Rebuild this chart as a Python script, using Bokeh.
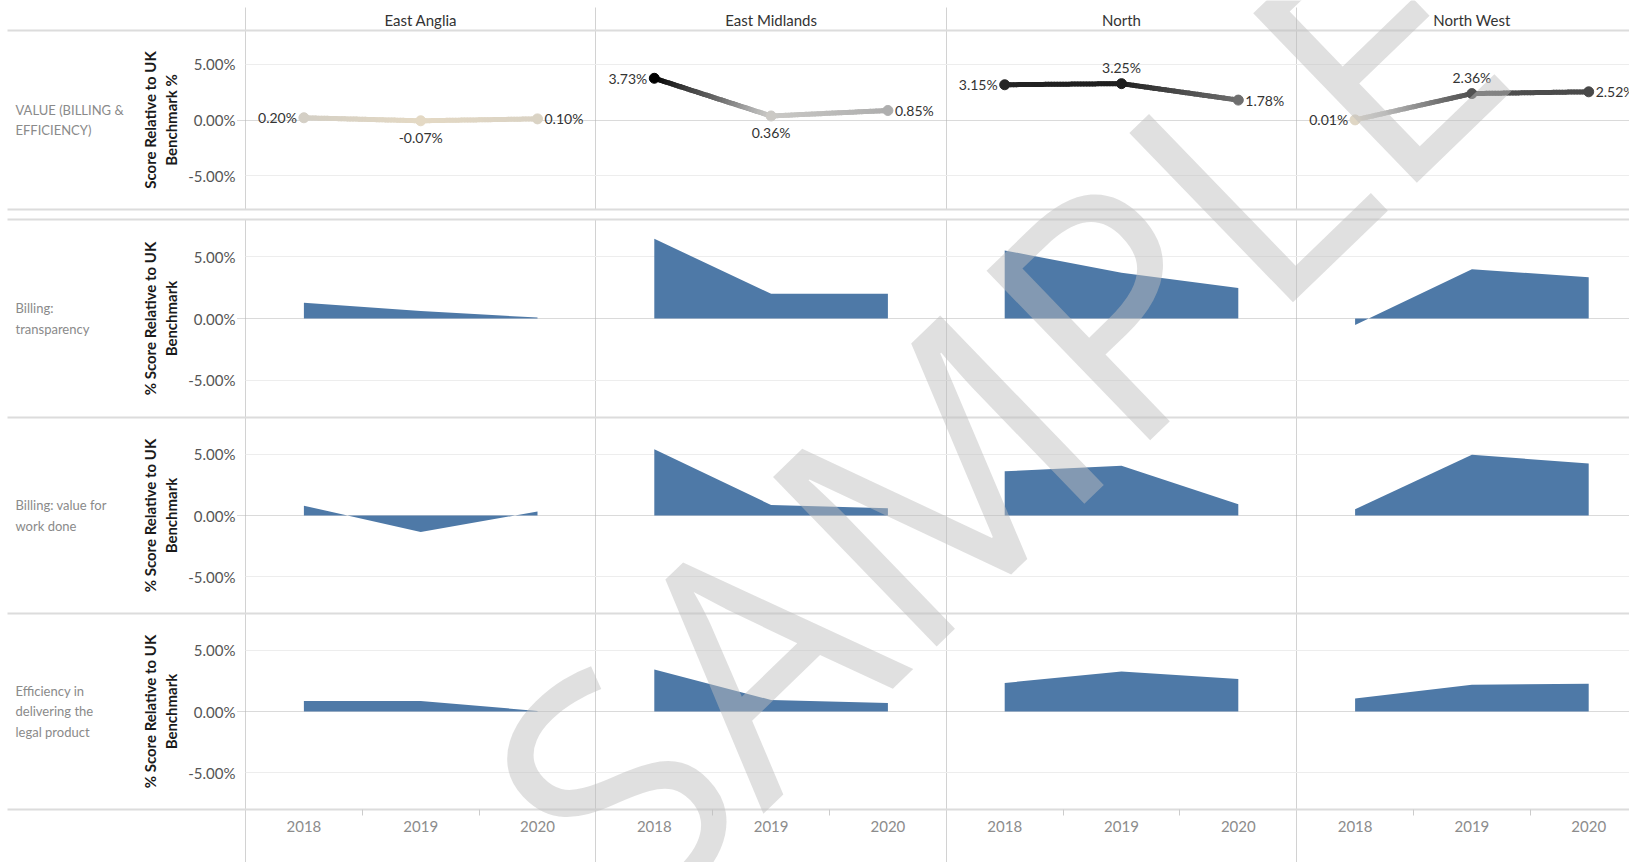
import numpy as np
from bokeh.plotting import figure
from bokeh.models import (ColumnDataSource, FixedTicker, Grid, Label, LinearAxis,
                          PrintfTickFormatter, Range1d)
from bokeh.core.properties import value
from bokeh.embed import file_html
from bokeh.resources import INLINE

# ---------------------------------------------------------------- data
regions = ["East Anglia", "East Midlands", "North", "North West"]
years = ["2018", "2019", "2020"]

row_titles = [
    "VALUE (BILLING &\nEFFICIENCY)",
    "Billing:\ntransparency",
    "Billing: value for\nwork done",
    "Efficiency in\ndelivering the\nlegal product",
]
axis_titles = ["Score Relative to UK\nBenchmark %"] + ["% Score Relative to UK\nBenchmark"] * 3

# overall value score per region, 2018-2020 (percent vs UK benchmark)
value_billing_efficiency = [
    [0.20, -0.07, 0.10],
    [3.73, 0.36, 0.85],
    [3.15, 3.25, 1.78],
    [0.01, 2.36, 2.52],
]
billing_transparency = [
    [1.27, 0.60, 0.08],
    [6.44, 2.00, 2.00],
    [5.50, 3.69, 2.46],
    [-0.53, 3.98, 3.34],
]
billing_value_for_work = [
    [0.80, -1.34, 0.32],
    [5.40, 0.86, 0.59],
    [3.61, 4.06, 0.91],
    [0.51, 4.95, 4.25],
]
efficiency_legal_product = [
    [0.86, 0.86, 0.05],
    [3.42, 0.94, 0.70],
    [2.33, 3.26, 2.65],
    [1.07, 2.19, 2.27],
]
area_rows = [billing_transparency, billing_value_for_work, efficiency_legal_product]
y_ticks = [-5, 0, 5]

# ---------------------------------------------------------------- layout
W, H = 1629, 862
PANEL_LEFT = 245          # page x where the first region panel starts
PX_PER_YEAR = 116.8
ROW_BANDS = [(30, 209), (219, 417), (417, 613), (613, 809)]
Y_LIM = 8.0

FONT = "Lato"
AREA_BLUE = "#4e79a7"

x_start = 0.5 - PANEL_LEFT / PX_PER_YEAR
x_end = x_start + W / PX_PER_YEAR


def xpos(i, j):
    """x coordinate of year j inside region panel i"""
    return 3 * i + j + 1


panel_edges = [3 * i + 0.5 for i in range(len(regions))]
panel_centres = [3 * i + 2 for i in range(len(regions))]

p = figure(width=W, height=H, x_range=Range1d(x_start, x_end), y_range=Range1d(H, 0),
           output_backend="svg", toolbar_location=None,
           x_axis_location=None, y_axis_location=None,
           min_border=0, outline_line_color=None,
           background_fill_color="white", border_fill_color="white")
p.grid.visible = False

row_names = [f"r{k}" for k in range(len(ROW_BANDS))]
extra = {}
for name, (top, bot) in zip(row_names, ROW_BANDS):
    h = bot - top
    extra[name] = Range1d(Y_LIM - (H - top) / h * 2 * Y_LIM, Y_LIM + top / h * 2 * Y_LIM)
p.extra_y_ranges = extra

# ---------------------------------------------------------------- frame lines
p.add_layout(Grid(dimension=0, ticker=FixedTicker(ticks=panel_edges), cross_bounds=(7, 209),
                  grid_line_color="#d2d2d2", grid_line_width=1))
p.add_layout(Grid(dimension=0, ticker=FixedTicker(ticks=panel_edges), cross_bounds=(219, H),
                  grid_line_color="#d2d2d2", grid_line_width=1))
p.add_layout(Grid(dimension=1, ticker=FixedTicker(ticks=[30] + [b for band in ROW_BANDS for b in band]),
                  cross_bounds=(x_start + 7 / PX_PER_YEAR, x_end),
                  grid_line_color="#dcdcdc", grid_line_width=2))

for k, name in enumerate(row_names):
    p.add_layout(Grid(dimension=1, y_range_name=name, ticker=FixedTicker(ticks=[-5, 5]),
                      cross_bounds=(0.5, x_end), grid_line_color="#ededed", grid_line_width=1))
    p.add_layout(Grid(dimension=1, y_range_name=name, ticker=FixedTicker(ticks=[0]),
                      cross_bounds=(0.5 - 8 / PX_PER_YEAR, x_end),
                      grid_line_color="#b4b4b4", grid_line_width=1, grid_line_dash="1 1"))

    ax = LinearAxis(y_range_name=name, fixed_location=0.5, bounds=(-Y_LIM, Y_LIM),
                    ticker=FixedTicker(ticks=y_ticks),
                    formatter=PrintfTickFormatter(format="%.2f%%"),
                    axis_label=axis_titles[k],
                    axis_line_color=None, major_tick_line_color=None, minor_tick_line_color=None,
                    major_label_standoff=4,
                    major_label_text_font=FONT, major_label_text_font_size="15px",
                    major_label_text_color="#555555",
                    axis_label_standoff=5,
                    axis_label_text_font=FONT, axis_label_text_font_size="15px",
                    axis_label_text_font_style="bold", axis_label_text_color="#1a1a1a",
                    axis_label_text_line_height=1.2)
    p.add_layout(ax, "left")

    p.add_layout(Label(x=15, y=0, x_units="screen", y_units="data", y_range_name=name,
                       text=row_titles[k], text_font=FONT, text_font_size="13px",
                       text_color="#8a8a8a", text_baseline="middle", text_align="left",
                       text_line_height=1.3))

# region headers
hdr = LinearAxis(fixed_location=30, ticker=FixedTicker(ticks=panel_centres),
                 major_label_overrides={c: r for c, r in zip(panel_centres, regions)},
                 axis_line_color=None, major_tick_line_color=None, minor_tick_line_color=None,
                 major_label_standoff=-4, major_label_text_font=FONT,
                 major_label_text_font_size="15px", major_label_text_color="#333333")
p.add_layout(hdr, "above")

# year axis
year_pos = [xpos(i, j) for i in range(len(regions)) for j in range(len(years))]
year_sep = [xpos(i, j) + 0.5 for i in range(len(regions)) for j in range(len(years) - 1)]
xax = LinearAxis(fixed_location=809,
                 ticker=FixedTicker(ticks=year_pos, minor_ticks=year_sep),
                 major_label_overrides={x: years[n % len(years)] for n, x in enumerate(year_pos)},
                 axis_line_color=None, major_tick_line_color=None,
                 minor_tick_in=0, minor_tick_out=6, minor_tick_line_color="#cccccc",
                 major_label_standoff=5, major_label_text_font=FONT,
                 major_label_text_font_size="15px", major_label_text_color="#8c8c8c")
p.add_layout(xax, "below")

# ---------------------------------------------------------------- area rows
for k, measure in enumerate(area_rows):
    for i, series in enumerate(measure):
        xs = [xpos(i, j) for j in range(len(series))]
        p.varea(x=xs, y1=[0] * len(series), y2=series, fill_color=AREA_BLUE,
                y_range_name=row_names[k + 1])

# ---------------------------------------------------------------- value line row
ramp_stops = [(0.0, "#e4d9c4"), (0.12, "#c9c8c5"), (0.25, "#acacac"),
              (0.5, "#6b6b6b"), (0.72, "#424242"), (1.0, "#000000")]
all_vals = np.array(value_billing_efficiency, dtype=float).ravel()
vmin, vmax = all_vals.min(), all_vals.max()


def shade(v):
    t = min(max((v - vmin) / (vmax - vmin), 0.0), 1.0)
    for (t0, c0), (t1, c1) in zip(ramp_stops[:-1], ramp_stops[1:]):
        if t <= t1:
            f = (t - t0) / (t1 - t0)
            a = [int(c0[n:n + 2], 16) for n in (1, 3, 5)]
            b = [int(c1[n:n + 2], 16) for n in (1, 3, 5)]
            return "#%02x%02x%02x" % tuple(round(a[m] + (b[m] - a[m]) * f) for m in range(3))
    return ramp_stops[-1][1]


seg = dict(x0=[], y0=[], x1=[], y1=[], c=[])
STEPS = 40
for i, series in enumerate(value_billing_efficiency):
    for j in range(len(series) - 1):
        xa, xb = xpos(i, j), xpos(i, j + 1)
        va, vb = series[j], series[j + 1]
        for s in range(STEPS):
            f0, f1 = s / STEPS, (s + 1) / STEPS
            seg["x0"].append(xa + (xb - xa) * f0)
            seg["x1"].append(xa + (xb - xa) * f1)
            seg["y0"].append(va + (vb - va) * f0)
            seg["y1"].append(va + (vb - va) * f1)
            seg["c"].append(shade(va + (vb - va) * (f0 + f1) / 2))
p.segment("x0", "y0", "x1", "y1", source=ColumnDataSource(seg), line_color="c",
          line_width=5, line_cap="round", y_range_name="r0")

pts = dict(x=[], y=[], c=[], txt=[], align=[], dx=[], dy=[])
for i, series in enumerate(value_billing_efficiency):
    n = len(series)
    for j, v in enumerate(series):
        pts["x"].append(xpos(i, j))
        pts["y"].append(v)
        pts["c"].append(shade(v))
        pts["txt"].append(f"{v:.2f}%")
        if j == 0:
            pts["align"].append("right"); pts["dx"].append(-7); pts["dy"].append(0)
        elif j == n - 1:
            pts["align"].append("left"); pts["dx"].append(7); pts["dy"].append(0)
        else:
            above = v >= (series[j - 1] + series[j + 1]) / 2
            pts["align"].append("center"); pts["dx"].append(0)
            pts["dy"].append(-16 if above else 17)
src = ColumnDataSource(pts)
p.scatter("x", "y", source=src, size=10, fill_color="c", line_color="c", y_range_name="r0")
p.text("x", "y", text="txt", source=src, text_align="align", x_offset="dx", y_offset="dy",
       text_baseline="middle", text_font=value(FONT), text_font_size="14px",
       text_color="#333333", y_range_name="r0")

# ---------------------------------------------------------------- watermark
p.add_layout(Label(x=990, y=H - 416, x_units="screen", y_units="screen", text="SAMPLE",
                   angle=np.deg2rad(44), text_font="Open Sans", text_font_size="330px",
                   text_color="#bebebe", text_alpha=0.475, text_align="center",
                   text_baseline="alphabetic"))

open("out.html", "w").write(file_html(p, INLINE))
